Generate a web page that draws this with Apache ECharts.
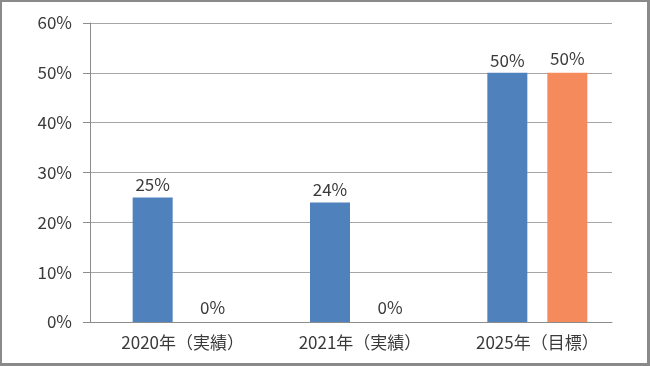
<!DOCTYPE html>
<html>
<head>
<meta charset="utf-8">
<script src="https://cdn.jsdelivr.net/npm/echarts@6/dist/echarts.min.js"></script>
<style>
  html, body { margin: 0; padding: 0; background: #8a8a8a; width: 650px; height: 366px; overflow: hidden; }
  #c { position: absolute; left: 2px; top: 2px; width: 645px; height: 361px; background: #ffffff; }
</style>
</head>
<body>
<div id="c"></div>
<script>
const categories = ['2020年（実績）', '2021年（実績）', '2025年（目標）'];
const actualValues = [25, 24, 50];
const targetValues = [0, 0, 50];
const yTicks = [0, 10, 20, 30, 40, 50, 60];

const FONT = '"Noto Sans CJK JP", "Noto Sans", sans-serif';
const TXT = '#3a3a3a';
const FS = 17;
const chart = echarts.init(document.getElementById('c'));
chart.setOption({
  animation: false,
  textStyle: { fontFamily: FONT },
  grid: [
    { left: 88, top: 21, width: 522, height: 299, containLabel: false },
    { left: 92, top: 21, width: 532, height: 299, containLabel: false }
  ],
  xAxis: [
    {
      type: 'category', gridIndex: 0, data: categories,
      axisLine: { show: true, lineStyle: { color: '#8c8c8c', width: 1 } },
      axisTick: { show: false },
      axisLabel: { show: false }
    },
    {
      type: 'category', gridIndex: 1, data: categories,
      axisLine: { show: false },
      axisTick: { show: false },
      axisLabel: { show: true, color: TXT, fontSize: FS, fontFamily: FONT, margin: 12 }
    }
  ],
  yAxis: [
    {
      type: 'value', gridIndex: 0, min: yTicks[0], max: yTicks[yTicks.length - 1], interval: 10,
      axisLine: { show: true, lineStyle: { color: '#8c8c8c', width: 1 } },
      axisTick: { show: true, length: 7, lineStyle: { color: '#8c8c8c' } },
      splitLine: { show: true, lineStyle: { color: '#a6a6a6', width: 1 } },
      axisLabel: { color: TXT, fontSize: FS, fontFamily: FONT, margin: 18, formatter: '{value}%' }
    },
    {
      type: 'value', gridIndex: 1, min: yTicks[0], max: yTicks[yTicks.length - 1], interval: 10,
      show: false
    }
  ],
  series: [
    {
      type: 'bar', xAxisIndex: 1, yAxisIndex: 1, data: actualValues,
      barWidth: 40, barGap: '50%',
      itemStyle: { color: '#4f81bd' },
      label: { show: true, position: 'top', distance: 4, color: TXT, fontSize: FS, fontFamily: FONT, formatter: '{c}%' }
    },
    {
      type: 'bar', xAxisIndex: 1, yAxisIndex: 1, data: targetValues,
      barWidth: 40, barGap: '50%',
      itemStyle: { color: '#f58b5c' },
      label: { show: true, position: 'top', distance: 6, color: TXT, fontSize: FS, fontFamily: FONT, formatter: '{c}%' }
    }
  ]
});
</script>
</body>
</html>
